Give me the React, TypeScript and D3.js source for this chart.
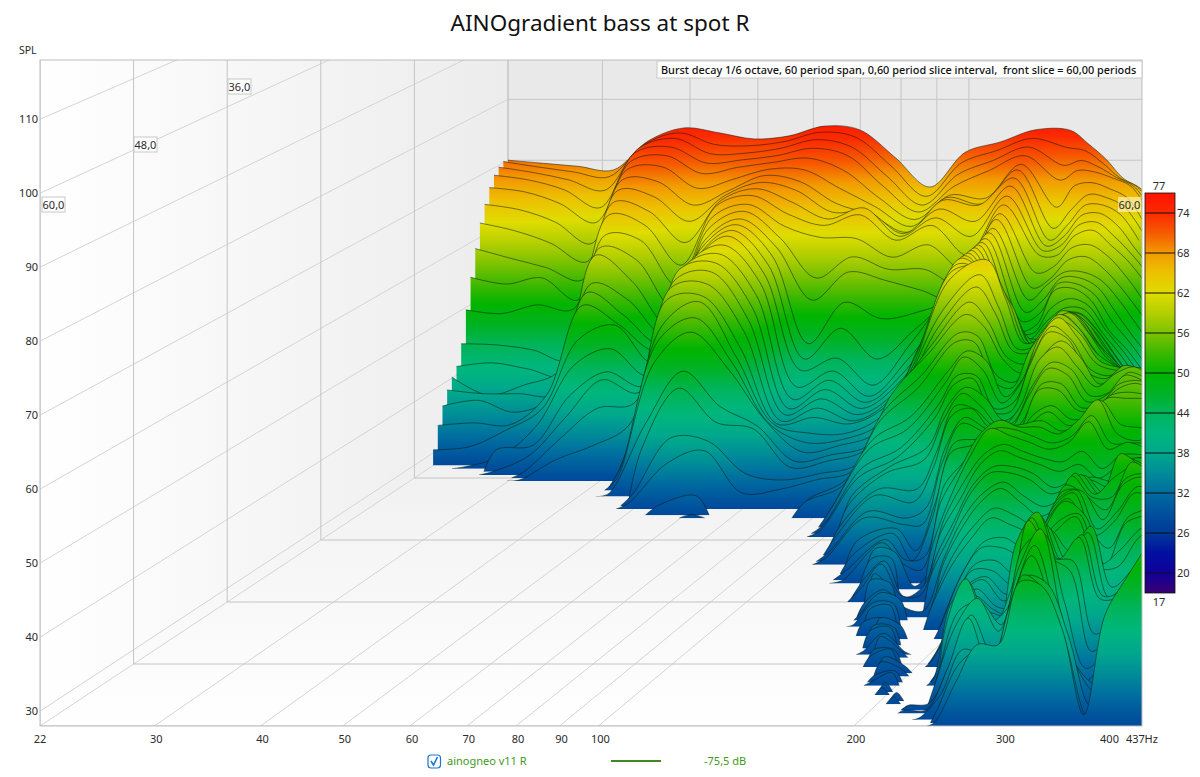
import React from "react";
import * as d3 from "d3";

const W = 1200, H = 777;
const FONT = "'Noto Sans', 'Open Sans', sans-serif";

// Frequency columns of the waterfall (Hz)
const freqs = [22,24.7,27.7,31.1,34.9,39.2,44,49.4,55.4,62.2,69.8,78.4,88,98.8,110.9,124.5,139.7,148,156.8,166.1,176,186.5,197.6,209.3,221.8,235,249,263.8,279.4,296,313.6,332.3,352,373,395.1,418.6,443.5];
const q = (n: number) => new Array(n).fill(20); // columns that sit below the floor of the plot

// One SPL list per slice. Back slice first. Name = slice number, 0.6 periods apart.
const sliceInterval = 0.6;
const s00 = [70,69.5,69,68.4,73.2,75.3,74.5,73.5,74,75.6,75,70.5,65.6,71.3,73,75,74.9,72.7,70.2,67,65.3,61];
const s01 = [70.2,69.3,68.5,67.7,73,74.9,73,72.8,73.5,75,74.2,69.5,64.5,70,72,74,72.5,72,70,67.5,66,62];
const s02 = [69.7,68.8,67.6,65.9,72.9,74.4,71.9,72,72.8,74.2,73,68.2,63.5,68.5,70.8,73,70,70.8,69.7,68,66.5,62.5];
const s03 = [68.8,68,66.4,63.5,72.5,73.4,70.8,71.3,72,73.2,72,67,62.8,67,69.6,72,68,69.6,69.3,68.3,67,63];
const s04 = [67.2,66.5,64.6,61.5,71.5,72.4,69.5,70.5,71.3,72,70,65.5,62,66,65.5,71,64,67.5,68,67,65.5,61];
const s05 = [64.9,64,62,58.5,70.5,71,67.5,69,70.6,70.5,67.5,64.5,61.3,66,65,70.5,61,64,66.5,66,64.5,60.5];
const s06 = [62.3,61,59,56,69.3,69,65.2,67.6,70,69,65.5,63.6,60.8,66,65.2,69.6,59.5,62,65.2,65.2,63.6,59.5];
const s07 = [58.6,57,55.5,53.5,68,67,63,67.2,69.3,68,64.5,64.6,61,65,63,68.7,59,60.6,64,64.3,62.3,58.5,55];
const s08 = [54.4,53.3,54.3,50.7,66.5,65,60,66.8,68.7,66.5,63.8,65.6,61,64,61,67.5,58.7,59.5,62.8,63.3,61,58,54.5];
const s09 = [49.6,49,50.4,49.7,64.9,63.2,56.8,66.4,68,65,63.2,64.9,60.8,63.2,58.4,66.5,58.4,58.4,61.6,62.4,60,57.3,53.6];
const s10 = [44.6,44.4,43.6,42,62,61.2,54,65,67,63.5,61.7,61.5,58.5,60.5,56.5,65.5,56,57,60,60.5,58.7,55.5,51.5,47];
const s11 = [41.4,42,41,40,60.5,58.5,51,63.5,66.3,62,55.6,59,57,57,54.5,65,54,55.5,58.5,59,57,53.8,50,46];
const s12 = [40.2,37.3,38.9,41.3,59.7,55.5,48.5,62,65.5,61,52.5,57,55.7,54.1,52.5,64,52.5,54.9,57,57,55.7,52.5,48.5,44.5];
const s13 = [38.6,38,38,38,55.6,53,47.5,61,65,60,46,52.6,50,51,53.5,63.7,51,53,56.5,56.5,55,51,47,43.5];
const s14 = [36.5,37.4,35.5,38,54.6,51,46.5,60,64.5,59,44,48.9,44,48.5,54,63.2,50,51.3,56,56,54.3,50,46.5,42.5];
const s15 = [33.9,34.3,34,38.7,53,49.9,45.9,59.4,64,58,42.7,44.6,40.3,46.7,54.6,63,49,49.9,55.4,55.7,53.8,49,45.9,42];
const s16 = [30.5,31,33.6,37,48,50.3,44.5,60,63,57,40.5,43,39,44.5,52,63,49.5,49,53,54.5,53.5,49.5,46,42,39];
const s17 = [20,28.3,30,35,44.4,47,42.8,60,62,55.5,39,42,38.5,43,51,63,50,48.5,51.5,53.5,53.2,49.5,46,42,39];
const s18 = [20,20,31.5,32.2,40,43.8,41.6,60,61,54,38,41,38,42,50,63,51,48,50,53,53,50,46,42,39];
const s19 = [20,20,28.5,31,37,43,41,58.8,60,52.5,37.5,40,37.5,41,50,63,53,50,49.5,52.5,53.5,51,47,43,40];
const s20 = [20,20,20,29,34.3,39,39.8,58,58.5,51,37,39,37,40.5,50,63,55.5,52,49,52,53.7,51.5,47.5,43.5,40.5];
const s21 = [20,20,20,28.2,31.4,33.6,37,56.5,57,49,37,38,37,40,50,63,58,54,49,52,54,52,48,44,41];
const s22 = [...q(5),28,33,53,56.6,48,37.5,36,36,39,50,62.5,60,56,50,52,55,53.5,49.5,46,43,40];
const s23 = [...q(5),20,31.5,51,54.5,47.5,38,35,35.5,38,49,62,62,57,50.5,52,55.5,54,50,47,44,41];
const s24 = [...q(6),30,48,52.7,47,39,34,35,37,47.5,61,64,58,51,52,56,55,51,48,45,42];
const s26 = [...q(6),28.5,39.5,47.5,42,39,33.5,34.5,36,45.5,57,62.5,57.5,51,51.5,55.5,56.5,53,49.5,47,44.5];
const s27 = [...q(6),28,36,45.3,40,39,33,34,35.7,44,55,61,57,51,51,55,57,54,50,48,46];
const s29 = [...q(7),30,38.5,38,33,32,33,34.5,45,53,59.5,56.5,51,50,55,57.5,55,51,49,47];
const s30 = [...q(7),29,35,37,30.5,31,32.5,34,45.6,52,58,56,51,49,55,58,56,52,50,48];
const s32 = [...q(8),29.5,31,28,28,30.5,33.5,44,49.5,56,55.5,49.5,48.5,54.5,57.5,56.5,53,50.5,49.5,47.5];
const s33 = [...q(8),28,28.6,20,20,30.5,33,43,48,55,55,49,48,54,57,57,54,51,50,48];
const s35 = [...q(13),31.5,41,44.5,51.5,54.5,53,47.5,50.5,56,59,57,53,52,51.5,49.5];
const s36 = [...q(13),31,40,43,50,54,52,47,50,57,60,57,53,52,52,50];
const s38 = [...q(13),29.5,38,41,47.5,52,52,47,48,55,59.5,57.5,53,52,53.5,52];
const s39 = [...q(13),29,37,40,46,51,52,47,47,54,59,58,53,52,54,53];
const s41 = [...q(14),35,39.5,42.5,48.5,51.5,50,46.5,49,56,58.5,56,52,53.5,54.5,53];
const s42 = [...q(14),34,39,41,47,51,49,46,49,56,58,55,52,54,55,53];
const s44 = [...q(14),32,37.5,37.5,43,50,49.5,47,47.5,53,56.5,55.5,51.5,52,55,54];
const s45 = [...q(14),31,37,36,41,49,50,47,47,52,56,55,51,52,55,54];
const s47 = [...q(14),29.5,35.5,34.5,36,45,49.5,48,46.5,49,54.5,54.5,51,51.5,54.5,55,54];
const s48 = [...q(14),29,35,34,34,43,49,48,46,48,54,54,51,51,54,55,54];
const s50 = [...q(15),32.5,34.3,31,38,47,47.5,47.5,47,51,52.5,50.5,51,54,54.5,54];
const s51 = [...q(15),31,34,30,36,46,47,48,47,50,52,50,51,54,54,54];
const s53 = [...q(15),29.5,34,31,31.5,42,45.5,49.5,50.5,51,51.5,50,51.5,54.5,51,50.5,50];
const s54 = [...q(15),28.5,34,31,30,40,45,50,52,51,51,50,52,55,50,49,50];
const s56 = [...q(16),34,33.5,28.5,32,41,47,51.5,51.5,50.5,49.5,50.5,53.5,49.5,49.5,49.5];
const s57 = [...q(16),33,33,28,34,42,48,52,51,50,49,50,53,49,50,49];
const s59 = [...q(16),31,33.5,28.3,30,39.5,45,49,50.5,49.5,48.5,48,49.5,47,49,49];
const s60 = [...q(16),30,33.5,29,29,38,43,48,50,49,48,47,48,46,48,49];
const s62 = [...q(17),33,30,28,34.5,40.5,46,48.5,48.5,47.5,45.5,46.5,47,46.5,49.5,50];
const s63 = [...q(17),32.5,32,20,33,39,45,48,48,47,45,46,47,46,50,50];
const s65 = [...q(17),30,32,29.5,29,36.5,42.5,46,47.5,45.5,44,45.5,48.5,46,51,50];
const s66 = [...q(17),29,32,31,28,35,41,45,47,45,43,45,49,46,52,50];
const s68 = [...q(17),28.3,31.5,31.3,20,32,38.5,42.5,45,44,42.5,43.5,50,47,49.5,51,50];
const s69 = [...q(18),31,31.5,20,31,37,41,44,43,42,43,50,47,47,52,50];
const s71 = [...q(18),30,30.5,28,20,31,37.5,41.5,42,40.5,43,49.5,48,46,50.5,51,48.5];
const s72 = [...q(19),31,30,20,30,37,41,41,40,43,49,49,45,50,51,48];
const s74 = [...q(19),30.8,30.6,20,28,34,39.5,40,38,41.5,48.5,50,44.5,47,50.5,49.5];
const s75 = [...q(19),30.5,31,20,20,33,39,39,37,41,48,50,44,46,50,49];
const s77 = [...q(19),28.5,31,28.5,20,31,37.5,39,36.5,39,47,50,46,43,47.5,48.5];
const s78 = [...q(20),31,29,20,30,37,39,36,38,46,50,48,41,47,48];
const s80 = [...q(20),30,30,20,29.5,35,38.5,36,36,44,48,49,42,44,47,48];
const s81 = [...q(20),29.5,30.5,20,29,34,38,36,35,43,47,49,42,42,46,48];
const s83 = [...q(21),30.3,29,20,30,36,36.5,36,43,48,45,48.5,40,42.5,46];
const s84 = [...q(21),30,29,20,31,37,36,36,45,49,44,48,39,42,46];
const s86 = [...q(21),29,29.6,20,29.5,39,39,34,47,51,45,48.5,40,41,45.5];
const s87 = [...q(21),28.5,29.8,20,29,40,40,33,48,52,45.5,48.5,40,40.5,45];
const s89 = [...q(22),29.3,20,20,37.5,43,36,42,52,46.5,46,36,38,43.5,46];
const s90 = [...q(22),29,20,20,37,44,38,40,52,47,45,34,37,43,46];
const s92 = [...q(23),29.2,20,32,40.5,41.5,38.5,49,51,41.5,32.5,35,41,45.5];
const s93 = [...q(23),29,20,31,39,42.5,38,47,52,40,31,34,40,45];
const s95 = [...q(24),28.7,29,34.5,41,35.5,44,50.5,41.5,34,31.5,38,43,47];
const s96 = [...q(24),28.5,28.5,34,41,34,43,49.5,42,35,31,37,42,46];
const s98 = [...q(25),28.3,31.5,37.5,37,39,47.5,46.5,39.5,30,41,46,50.5];
const s99 = [...q(26),30,36,38,38,48,46,39,29,42,47.5,52];
const s100 = [...q(26),28.5,34,39,39,47.5,47,41,29.5,43,48,52.5];
const sliceNumbers = [0,1,2,3,4,5,6,7,8,9,10,11,12,13,14,15,16,17,18,19,20,21,22,23,24,26,27,29,30,32,33,35,36,38,39,41,42,44,45,47,48,50,51,53,54,56,57,59,60,62,63,65,66,68,69,71,72,74,75,77,78,80,81,83,84,86,87,89,90,92,93,95,96,98,99,100];
const slices = [s00,s01,s02,s03,s04,s05,s06,s07,s08,s09,s10,s11,s12,s13,s14,s15,s16,s17,s18,s19,s20,s21,s22,s23,s24,s26,s27,s29,s30,s32,s33,s35,s36,s38,s39,s41,s42,s44,s45,s47,s48,s50,s51,s53,s54,s56,s57,s59,s60,s62,s63,s65,s66,s68,s69,s71,s72,s74,s75,s77,s78,s80,s81,s83,s84,s86,s87,s89,s90,s92,s93,s95,s96,s98,s99,s100];

const freqTicks = [22,30,40,50,60,70,80,90,100,200,300,400];
const splTicks = [30,40,50,60,70,80,90,100,110];
const depthTicks = [60,48,36,24,12,0];
const barTicks = [74,68,62,56,50,44,38,32,26,20];
const colorStops: [number, string][] = [[77,"#ff1200"],[74,"#fb2a00"],[71,"#f65a00"],[68,"#f29a00"],[65,"#ecc200"],[62,"#dfdc00"],[59,"#b4cf00"],[56,"#7cc200"],[53,"#3cb800"],[50,"#00b400"],[47,"#00b224"],[44,"#00b45a"],[41,"#00b67c"],[38,"#00a88c"],[35,"#008c98"],[32,"#006ca0"],[29,"#00509c"],[26,"#003a98"],[23,"#0010a0"],[20,"#10009c"],[17,"#380070"]];

// Projection, from the front plane (60 periods) to the back plane (0 periods)
const octave = d3.scaleLog().domain([22, 437]).range([0, Math.log2(437 / 22)]);
const originX = d3.scaleLinear().domain([0, 60]).range([508, 40]);
const stretchX = d3.scaleLinear().domain([0, 60]).range([211, 255.6]);
const floorY = d3.scaleLinear().domain([0, 60]).range([416, 726]);
const stretchY = d3.scaleLinear().domain([0, 60]).range([6.09, 7.4]);
const SPL_FLOOR = 28;
const px = (f: number, d: number) => originX(d) + stretchX(d) * octave(f);
const py = (v: number, d: number) => floorY(d) - stretchY(d) * (v - SPL_FLOOR);

const L = 40, R = 1142, T = 60, B = 726;
const backBottom = floorY(0);
const barY = d3.scaleLinear().domain([77, 17]).range([193, 593]);
const GRID = "#c4c4c4";
const TXT = "#2a2a2a";

// Runs of a slice that stand above the floor; each run starts and ends close to where it crosses the floor.
function sliceRuns(vals: number[], d: number) {
  const runs: [number, number][][] = [];
  let run: [number, number][] = [];
  const base = floorY(d);
  vals.forEach((v, k) => {
    const x = px(freqs[k], d);
    if (v > SPL_FLOOR) {
      if (!run.length && k > 0) {
        const pre = px(freqs[k - 1], d);
        run.push([pre + (x - pre) * 0.65, base]);
      }
      run.push([x, py(v, d)]);
    } else if (run.length) {
      const prev = px(freqs[k - 1], d);
      run.push([prev + (x - prev) * 0.35, base]);
      runs.push(run);
      run = [];
    }
  });
  if (run.length) runs.push(run);
  return runs;
}
const curve = d3.curveCatmullRom.alpha(0.5);
const areaOf = (d: number) => d3.area<[number, number]>().x(p => p[0]).y0(floorY(d)).y1(p => p[1]).curve(curve);
const lineOf = d3.line<[number, number]>().x(p => p[0]).y(p => p[1]).curve(curve);

function DepthLabel({ x, y, t, fill }: { x: number; y: number; t: string; fill?: string }) {
  return (
    <g>
      <rect x={x} y={y} width={23} height={15} fill={fill || "#ffffff"} stroke={fill ? "none" : "#c8c8c8"} />
      <text x={x + 11.5} y={y + 11.5} textAnchor="middle" fontSize={11} fill={TXT}>{t}</text>
    </g>
  );
}

export default function App() {
  return (
    <svg width={W} height={H} viewBox={`0 0 ${W} ${H}`} style={{ position: "absolute", left: 0, top: 0, display: "block", background: "#fff" }} fontFamily={FONT}>
      <defs>
        <clipPath id="plot"><rect x={L} y={T} width={R - L} height={B - T} /></clipPath>
        <linearGradient id="wall" gradientUnits="userSpaceOnUse" x1={L} x2={508} y1={0} y2={0}>
          <stop offset="0" stopColor="#ffffff" /><stop offset="1" stopColor="#ececec" />
        </linearGradient>
        <linearGradient id="floor" gradientUnits="userSpaceOnUse" x1={0} x2={0} y1={backBottom} y2={B}>
          <stop offset="0" stopColor="#eeeeee" /><stop offset="1" stopColor="#ffffff" />
        </linearGradient>
        <linearGradient id="bar" gradientUnits="userSpaceOnUse" x1={0} x2={0} y1={barY(77)} y2={barY(17)}>
          {colorStops.map(([v, c]) => <stop key={v} offset={(77 - v) / 60} stopColor={c} />)}
        </linearGradient>
        {sliceNumbers.map((n, i) => {
          const d = n * sliceInterval;
          return (
            <React.Fragment key={i}>
              <linearGradient id={`g${i}`} gradientUnits="userSpaceOnUse" x1={0} x2={0} y1={py(77, d)} y2={py(17, d)}>
                {colorStops.map(([v, c]) => <stop key={v} offset={(77 - v) / 60} stopColor={c} />)}
              </linearGradient>
              <clipPath id={`c${i}`}><rect x={0} y={0} width={W} height={floorY(d)} /></clipPath>
            </React.Fragment>
          );
        })}
      </defs>

      <text x={600} y={31} textAnchor="middle" fontSize={22.5} fill="#111">AINOgradient bass at spot R</text>
      <text x={19} y={54} fontSize={10.5} fill={TXT}>SPL</text>

      <g clipPath="url(#plot)">
        <rect x={508} y={T} width={R - 508} height={backBottom - T} fill="#e9e9e9" />
        <polygon points={`${L},${T} 508,${T} 508,${backBottom} ${L},${B}`} fill="url(#wall)" />
        <polygon points={`${L},${B} 508,${backBottom} ${R},${backBottom} ${R},${B}`} fill="url(#floor)" />

        {splTicks.map(v => (
          <g key={v}>
            <line x1={px(22, 60)} y1={py(v, 60)} x2={px(22, 0)} y2={py(v, 0)} stroke="#d4d4d4" />
            <line x1={px(22, 0)} y1={py(v, 0)} x2={R} y2={py(v, 0)} stroke={GRID} />
          </g>
        ))}
        {freqTicks.map(f => (
          <g key={f}>
            <line x1={px(f, 60)} y1={B} x2={px(f, 0)} y2={backBottom} stroke="#d4d4d4" />
            <line x1={px(f, 0)} y1={backBottom} x2={px(f, 0)} y2={T} stroke={GRID} />
          </g>
        ))}
        {depthTicks.map(d => (
          <g key={d}>
            <line x1={originX(d)} y1={T} x2={originX(d)} y2={floorY(d)} stroke={GRID} />
            <line x1={originX(d)} y1={floorY(d)} x2={R} y2={floorY(d)} stroke={GRID} />
          </g>
        ))}

        {slices.map((vals, i) => {
          const d = sliceNumbers[i] * sliceInterval;
          const runs = sliceRuns(vals, d);
          const area = areaOf(d);
          return (
            <g key={i} clipPath={`url(#c${i})`}>
              {runs.map((r, j) => <path key={j} d={area(r) as string} fill={`url(#g${i})`} />)}
              {runs.map((r, j) => <path key={`l${j}`} d={lineOf(r) as string} fill="none" stroke="#0a1a0a" strokeOpacity={0.75} strokeWidth={0.7} />)}
            </g>
          );
        })}
      </g>

      <rect x={L} y={T} width={R - L} height={B - T} fill="none" stroke="#bdbdbd" />

      <DepthLabel x={42} y={197} t="60,0" />
      <DepthLabel x={134} y={137} t="48,0" />
      <DepthLabel x={228} y={79} t="36,0" />
      <DepthLabel x={1118} y={197} t="60,0" fill="rgba(255,245,200,0.65)" />

      <rect x={657} y={61} width={485} height={17} fill="#fff" stroke="#c8c8c8" />
      <text x={661} y={73.5} fontSize={10.9} fontWeight={500} fill="#111" xmlSpace="preserve">Burst decay 1/6 octave, 60 period span, 0,60 period slice interval,  front slice = 60,00 periods</text>

      {splTicks.map(v => (
        <text key={v} x={38} y={py(v, 60) + 4} textAnchor="end" fontSize={11} fill={TXT}>{v}</text>
      ))}
      {freqTicks.map(f => (
        <text key={f} x={px(f, 60) + (f === 22 || f === 400 ? 0 : 2)} y={743} textAnchor="middle" fontSize={11} fill={TXT}>{f}</text>
      ))}
      <text x={1126} y={743} fontSize={11} fill={TXT}>437</text>
      <text x={1144.5} y={743} fontSize={11} fill={TXT}>Hz</text>

      <rect x={1145} y={barY(77)} width={30} height={barY(17) - barY(77)} fill="url(#bar)" stroke="#111" strokeWidth={0.8} />
      {barTicks.map(v => (
        <g key={v}>
          <line x1={1145} x2={1175} y1={barY(v)} y2={barY(v)} stroke="#111" />
          <text x={1177} y={barY(v) + 4} fontSize={11} fill={TXT}>{v}</text>
        </g>
      ))}
      <text x={1159} y={190} textAnchor="middle" fontSize={11} fill={TXT}>77</text>
      <text x={1159} y={606} textAnchor="middle" fontSize={11} fill={TXT}>17</text>

      <rect x={428} y={755} width={12.5} height={13} rx={3} fill="#fff" stroke="#1a78d0" strokeWidth={1.2} />
      <path d="M431 761 l2.5 4 l4 -8" fill="none" stroke="#1a78d0" strokeWidth={1.6} />
      <text x={447} y={765} fontSize={11} fill="#3f9a1a">ainogneo v11 R</text>
      <line x1={611} x2={661} y1={761} y2={761} stroke="#3f8a1f" strokeWidth={2} />
      <text x={704} y={765} fontSize={11} fill="#3f9a1a">-75,5 dB</text>
    </svg>
  );
}
